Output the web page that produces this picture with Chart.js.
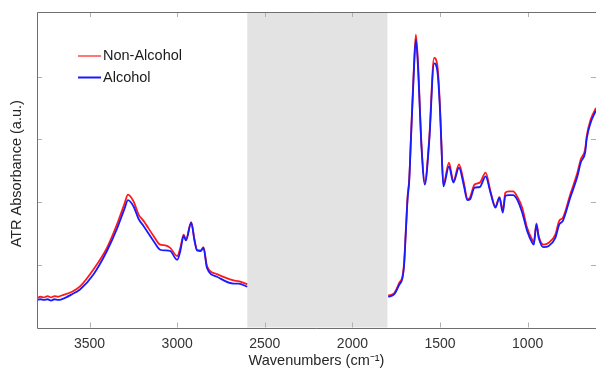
<!DOCTYPE html>
<html lang="en">

<head>
    <meta charset="UTF-8">
    <title>ATR spectra</title>
    <style>
        html, body {
            margin: 0;
            padding: 0;
            background-color: #ffffff;
        }

        .wrap {
            width: 596px;
            height: 369px;
        }
    </style>
</head>

<body>
    <div class="wrap">
        <canvas id="chartContainer" width="596" height="369"></canvas>
    </div>
    <script src="https://cdn.jsdelivr.net/npm/chart.js@4/dist/chart.umd.min.js"></script>
    <script>
        // wavenumbers (cm-1), high to low
        const leftWavenumbers = [3800, 3780, 3760, 3740, 3720, 3700, 3680, 3660, 3600, 3553, 3477, 3401, 3344, 3300, 3281, 3249, 3220, 3192, 3135, 3097, 3068, 3040, 3000, 2982, 2963, 2950, 2920, 2901, 2887, 2865, 2850, 2830, 2773, 2678, 2650, 2600];
        const leftNonAlcohol = [0.47, 0.49, 0.48, 0.50, 0.48, 0.50, 0.49, 0.51, 0.57, 0.66, 0.93, 1.27, 1.64, 1.98, 2.12, 2.01, 1.80, 1.70, 1.46, 1.32, 1.31, 1.27, 1.14, 1.27, 1.48, 1.40, 1.68, 1.40, 1.24, 1.23, 1.28, 0.98, 0.85, 0.75, 0.74, 0.69];
        const leftAlcohol = [0.44, 0.45, 0.44, 0.45, 0.43, 0.45, 0.44, 0.45, 0.53, 0.61, 0.85, 1.22, 1.57, 1.90, 2.03, 1.93, 1.73, 1.62, 1.38, 1.24, 1.23, 1.22, 1.08, 1.22, 1.46, 1.39, 1.67, 1.38, 1.23, 1.22, 1.27, 0.95, 0.81, 0.70, 0.70, 0.65];

        const rightWavenumbers = [1796, 1761, 1733, 1714, 1705, 1695, 1685, 1676, 1666, 1651, 1638, 1625, 1615, 1606, 1587, 1562, 1534, 1515, 1500, 1493, 1481, 1449, 1424, 1392, 1364, 1344, 1330, 1303, 1273, 1240, 1212, 1184, 1161, 1142, 1127, 1108, 1083, 1060, 1031, 1003, 974, 965, 950, 937, 909, 880, 842, 820, 799, 757, 716, 697, 672, 663, 640, 610];
        const rightNonAlcohol = [0.51, 0.55, 0.71, 0.82, 1.03, 1.56, 2.09, 2.36, 3.03, 4.04, 4.67, 4.19, 3.50, 2.92, 2.32, 3.00, 4.30, 4.17, 3.51, 3.00, 2.28, 2.63, 2.33, 2.60, 2.31, 2.05, 2.07, 2.28, 2.31, 2.47, 2.17, 1.93, 2.08, 1.87, 2.15, 2.17, 2.17, 2.09, 1.91, 1.59, 1.40, 1.36, 1.66, 1.46, 1.32, 1.35, 1.48, 1.70, 1.75, 2.12, 2.47, 2.68, 2.84, 3.05, 3.32, 3.50];
        const rightAlcohol = [0.49, 0.53, 0.68, 0.79, 1.00, 1.53, 2.06, 2.33, 3.00, 3.98, 4.59, 4.11, 3.45, 2.88, 2.28, 2.96, 4.21, 4.08, 3.45, 2.96, 2.25, 2.57, 2.31, 2.55, 2.26, 2.03, 2.04, 2.23, 2.24, 2.41, 2.15, 1.91, 2.07, 1.83, 2.10, 2.11, 2.11, 2.04, 1.83, 1.54, 1.35, 1.32, 1.64, 1.43, 1.28, 1.30, 1.43, 1.64, 1.70, 2.07, 2.41, 2.63, 2.79, 3.01, 3.27, 3.46];

        const xTickValues = [3500, 3000, 2500, 2000, 1500, 1000];
        const yTickValues = [1, 2, 3, 4];
        const maskedRange = [2600, 1800];

        // join both segments with a null point so the line breaks over the gray band
        function buildSeries(lw, lv, rw, rv) {
            let pts = lw.map((w, i) => ({ x: w, y: lv[i] }));
            pts.push({ x: 2200, y: null });
            return pts.concat(rw.map((w, i) => ({ x: w, y: rv[i] })));
        }

        const frame = {
            id: 'frame',
            beforeDatasetsDraw(chart) {
                const { ctx, chartArea: a, scales: { x } } = chart;
                const x1 = x.getPixelForValue(maskedRange[0]);
                const x2 = x.getPixelForValue(maskedRange[1]);
                ctx.save();
                ctx.fillStyle = '#e3e3e3';
                ctx.fillRect(x1, a.top, x2 - x1, a.bottom - a.top);
                ctx.restore();
            },
            afterDraw(chart) {
                const { ctx, chartArea: a, scales: { x, y } } = chart;
                ctx.save();
                // inward ticks
                ctx.strokeStyle = '#b0b0b0';
                ctx.lineWidth = 1;
                ctx.beginPath();
                xTickValues.forEach(v => {
                    const px = Math.round(x.getPixelForValue(v)) + 0.5;
                    ctx.moveTo(px, a.bottom); ctx.lineTo(px, a.bottom - 5);
                    ctx.moveTo(px, a.top); ctx.lineTo(px, a.top + 5);
                });
                yTickValues.forEach(v => {
                    const py = Math.round(y.getPixelForValue(v)) + 0.5;
                    ctx.moveTo(a.left, py); ctx.lineTo(a.left + 5, py);
                    ctx.moveTo(a.right, py); ctx.lineTo(a.right - 5, py);
                });
                ctx.stroke();
                // box
                ctx.strokeStyle = '#6e6e6e';
                ctx.beginPath();
                ctx.moveTo(a.right, Math.round(a.top) + 0.5);
                ctx.lineTo(Math.round(a.left) + 0.5, Math.round(a.top) + 0.5);
                ctx.lineTo(Math.round(a.left) + 0.5, Math.round(a.bottom) + 0.5);
                ctx.lineTo(a.right, Math.round(a.bottom) + 0.5);
                ctx.stroke();
                // y title
                ctx.fillStyle = '#262626';
                ctx.font = '14.5px "Liberation Sans", Arial, sans-serif';
                ctx.textAlign = 'center';
                ctx.textBaseline = 'middle';
                ctx.translate(17, (a.top + a.bottom) / 2 + 4);
                ctx.rotate(-Math.PI / 2);
                ctx.fillText('ATR Absorbance (a.u.)', 0, 0);
                ctx.restore();
                // legend
                ctx.save();
                ctx.font = '14.5px "Liberation Sans", Arial, sans-serif';
                ctx.textBaseline = 'middle';
                ctx.fillStyle = '#1a1a1a';
                chart.data.datasets.forEach((ds, i) => {
                    const ly = 56 + i * 21.5;
                    ctx.strokeStyle = ds.borderColor;
                    ctx.lineWidth = i == 0 ? 1.2 : 2;
                    ctx.beginPath();
                    ctx.moveTo(78, ly); ctx.lineTo(101, ly);
                    ctx.stroke();
                    ctx.fillText(ds.label, 103, ly);
                });
                ctx.restore();
            }
        };

        const ctx = document.getElementById("chartContainer");
        const mainChart = new Chart(ctx, {
            type: 'line',
            data: {
                datasets: [{
                    label: 'Non-Alcohol',
                    data: buildSeries(leftWavenumbers, leftNonAlcohol, rightWavenumbers, rightNonAlcohol),
                    borderColor: '#ff1a1a',
                    borderWidth: 1.8,
                    order: 1
                }, {
                    // blue sits on top of red, as in the original
                    label: 'Alcohol',
                    data: buildSeries(leftWavenumbers, leftAlcohol, rightWavenumbers, rightAlcohol),
                    borderColor: '#1a1aff',
                    borderWidth: 1.8,
                    order: 0
                }]
            },
            options: {
                responsive: false,
                animation: false,
                spanGaps: false,
                layout: { padding: { left: 37, right: 0, top: 12, bottom: 2 } },
                elements: {
                    point: { radius: 0 },
                    line: { cubicInterpolationMode: 'monotone' }
                },
                plugins: {
                    legend: { display: false },
                    tooltip: { enabled: false }
                },
                scales: {
                    x: {
                        type: 'linear',
                        reverse: true,
                        min: 610,
                        max: 3800,
                        grid: { display: false, drawTicks: false },
                        border: { display: false },
                        afterBuildTicks: (s) => { s.ticks = xTickValues.map(v => ({ value: v })); },
                        ticks: {
                            padding: 10,
                            color: '#333333',
                            font: { family: '"Liberation Sans", Arial, sans-serif', size: 14, lineHeight: 1 },
                            maxRotation: 0,
                            callback: (v) => String(v)
                        },
                        title: {
                            display: true,
                            text: 'Wavenumbers (cm\u207B\u00B9)',
                            color: '#262626',
                            padding: { top: -8, bottom: -1 },
                            font: { family: '"Liberation Sans", Arial, sans-serif', size: 14.5, lineHeight: 1 }
                        }
                    },
                    y: {
                        display: false,
                        min: 0,
                        max: 5.03
                    }
                }
            },
            plugins: [frame]
        });
    </script>
</body>

</html>
